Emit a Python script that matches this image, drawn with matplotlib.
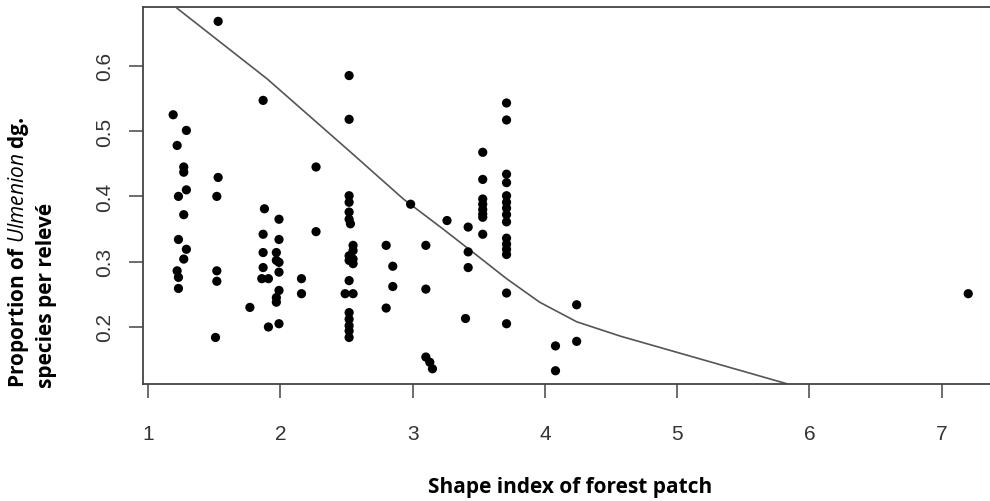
import matplotlib
matplotlib.use("Agg")
import matplotlib.pyplot as plt

# ---- data ----
shape_index = [
    1.19, 1.29, 1.22, 1.27, 1.27, 1.29, 1.23, 1.27, 1.23, 1.29, 1.27, 1.22, 1.23, 1.23,
    1.53, 1.53, 1.52, 1.52, 1.52, 1.51,
    1.77, 1.87, 1.88, 1.87, 1.87, 1.87, 1.86, 1.91, 1.91,
    1.99, 1.99, 1.97, 1.97, 1.99, 1.99, 1.99, 1.97, 1.97, 1.99,
    2.16, 2.16, 2.27, 2.27,
    2.52, 2.52, 2.52, 2.52, 2.52, 2.52, 2.53, 2.55, 2.55, 2.52, 2.55, 2.52, 2.55,
    2.52, 2.49, 2.55, 2.52, 2.52, 2.52, 2.52, 2.52,
    2.80, 2.85, 2.85, 2.80, 2.985,
    3.10, 3.10, 3.10, 3.13, 3.15, 3.26,
    3.42, 3.42, 3.42, 3.40,
    3.53, 3.53, 3.53, 3.53, 3.53, 3.53, 3.53, 3.53,
    3.71, 3.71, 3.71, 3.71, 3.71, 3.71, 3.71, 3.71, 3.71, 3.71, 3.71, 3.71, 3.71,
    3.71, 3.71,
    4.08, 4.08, 4.24, 4.24, 7.20,
]
proportion = [
    0.525, 0.501, 0.478, 0.445, 0.437, 0.410, 0.400, 0.372, 0.334, 0.319, 0.304, 0.286, 0.276, 0.259,
    0.668, 0.429, 0.400, 0.286, 0.270, 0.184,
    0.230, 0.547, 0.381, 0.342, 0.314, 0.291, 0.274, 0.274, 0.200,
    0.365, 0.334, 0.314, 0.302, 0.299, 0.284, 0.256, 0.245, 0.238, 0.205,
    0.274, 0.251, 0.445, 0.346,
    0.585, 0.518, 0.401, 0.391, 0.376, 0.365, 0.358, 0.325, 0.317, 0.309, 0.304, 0.302, 0.297,
    0.271, 0.251, 0.251, 0.222, 0.212, 0.202, 0.194, 0.184,
    0.325, 0.293, 0.262, 0.229, 0.388,
    0.325, 0.258, 0.154, 0.146, 0.136, 0.363,
    0.353, 0.315, 0.291, 0.213,
    0.4675, 0.426, 0.396, 0.388, 0.380, 0.373, 0.368, 0.342,
    0.543, 0.517, 0.434, 0.421, 0.401, 0.391, 0.382, 0.372, 0.361, 0.336, 0.327, 0.319, 0.311,
    0.252, 0.205,
    0.171, 0.133, 0.234, 0.178, 0.251,
]

# smoothed trend line (lowess-like)
fit_x = [1.22, 1.90, 2.53, 2.93, 3.23, 3.49, 3.71, 3.96, 4.24, 4.57, 5.83]
fit_y = [0.688, 0.580, 0.468, 0.396, 0.350, 0.309, 0.274, 0.238, 0.208, 0.186, 0.113]

x_ticks = [1, 2, 3, 4, 5, 6, 7]
y_ticks = [0.2, 0.3, 0.4, 0.5, 0.6]

plt.rcParams['mathtext.fontset'] = 'custom'
plt.rcParams['mathtext.it'] = 'Open Sans:italic'
plt.rcParams['mathtext.rm'] = 'Open Sans:bold'

fig = plt.figure(figsize=(9.9, 5.02), dpi=100)
ax = fig.add_axes([143 / 990, 1 - 385 / 502, 857 / 990, 377 / 502])

ax.scatter(shape_index, proportion, s=44, color='black', edgecolors='none', zorder=3)
ax.plot(fit_x, fit_y, color='#555555', linewidth=1.2, zorder=2)

ax.set_xlim(0.962, 7.44)
ax.set_ylim(0.1127, 0.690)
ax.set_xticks(x_ticks)
ax.set_yticks(y_ticks)
ax.set_xticklabels([str(v) for v in x_ticks])
ax.set_yticklabels([f"{v:.1f}" for v in y_ticks], rotation=90, va='center')

for side in ['left', 'bottom', 'top', 'right']:
    ax.spines[side].set_color('#444444')
    ax.spines[side].set_linewidth(1.3)

ax.tick_params(axis='both', direction='out', length=10, width=1.1, color='#444444',
               labelcolor='#333333', labelsize=15)
ax.tick_params(axis='x', pad=19)
ax.tick_params(axis='y', pad=11)
for lbl in ax.get_xticklabels() + ax.get_yticklabels():
    lbl.set_fontfamily('Liberation Sans')

# axis titles
fig.text(570 / 990, 1 - 488 / 502, 'Shape index of forest patch', ha='center', va='center',
         fontsize=15, fontweight='bold', family='Open Sans')
fig.text(31 / 990, 1 - 388 / 502, r'Proportion of $\mathit{Ulmenion}$ dg.', rotation=90,
         ha='right', va='bottom', fontsize=15, fontweight='bold', family='Open Sans')
fig.text(57 / 990, 1 - 388 / 502, 'species per relevé', rotation=90,
         ha='right', va='bottom', fontsize=15, fontweight='bold', family='Open Sans')

fig.savefig('out.png', dpi=100)
